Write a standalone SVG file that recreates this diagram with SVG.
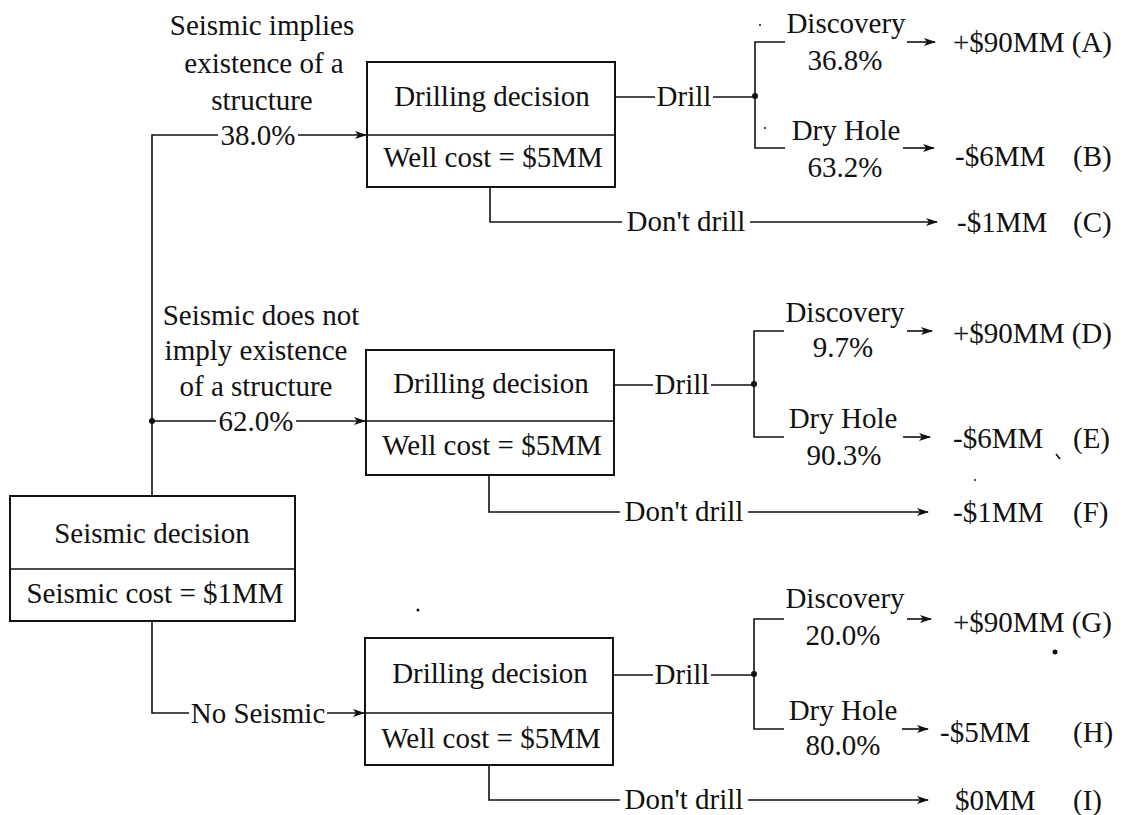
<svg xmlns="http://www.w3.org/2000/svg" width="1123" height="815" viewBox="0 0 1123 815">
<style>
text { font-family: "Liberation Serif", "Times New Roman", serif; font-size: 29px; fill: #111; }
.c { text-anchor: middle; }
.box { fill: #fff; stroke: #111; stroke-width: 2; }
.ln { fill: none; stroke: #111; stroke-width: 1.6; }
.arr { marker-end: url(#ah); }
.dot { fill: #111; }
</style>
<defs>
<marker id="ah" markerWidth="12" markerHeight="10" refX="11" refY="5" orient="auto" markerUnits="userSpaceOnUse"><path d="M0,1 L12,5 L0,9 L3,5 Z" fill="#111"/></marker>
</defs>
<rect width="1123" height="815" fill="#fff"/>

<g id="connectors">
  <path class="ln" d="M152,496 V135 H218"/>
  <path class="ln arr" d="M298,135 H366"/>
  <path class="ln" d="M152,421 H216"/>
  <path class="ln arr" d="M296,421 H365"/>
  <circle class="dot" cx="152" cy="421" r="3"/>
  <path class="ln" d="M152,621 V713 H189"/>
  <path class="ln arr" d="M327,713 H364"/>

  <path class="ln" d="M615,97 H655 M713,97 H755"/>
  <circle class="dot" cx="755" cy="96" r="3"/>
  <path class="ln" d="M785,42 H755 V148 H785"/>
  <path class="ln arr" d="M907,42 H935"/>
  <path class="ln arr" d="M903,148 H934"/>
  <path class="ln" d="M490,187 V222 H622"/>
  <path class="ln arr" d="M750,222 H937"/>

  <path class="ln" d="M614,385 H653 M711,385 H754"/>
  <circle class="dot" cx="754" cy="384" r="3"/>
  <path class="ln" d="M784,331 H754 V437 H784"/>
  <path class="ln arr" d="M907,331 H932"/>
  <path class="ln arr" d="M903,437 H930"/>
  <path class="ln" d="M489,475 V512 H620"/>
  <path class="ln arr" d="M748,512 H928"/>

  <path class="ln" d="M613,675 H653 M711,675 H754"/>
  <circle class="dot" cx="754" cy="674" r="3"/>
  <path class="ln" d="M784,619 H754 V729 H784"/>
  <path class="ln arr" d="M907,619 H931"/>
  <path class="ln arr" d="M902,729 H928"/>
  <path class="ln" d="M489,765 V800 H620"/>
  <path class="ln arr" d="M748,800 H928"/>
</g>

<g id="edge-labels">
  <text class="c" x="262" y="35">Seismic implies</text>
  <text class="c" x="264" y="73">existence of a</text>
  <text class="c" x="262" y="110">structure</text>
  <text class="c" x="258" y="145">38.0%</text>

  <text class="c" x="261" y="325">Seismic does not</text>
  <text class="c" x="256" y="360">imply existence</text>
  <text class="c" x="256" y="396">of a structure</text>
  <text class="c" x="256" y="431">62.0%</text>

  <text class="c" x="258" y="723">No Seismic</text>

  <text class="c" x="684" y="106">Drill</text>
  <text class="c" x="686" y="231">Don't drill</text>
  <text class="c" x="682" y="394">Drill</text>
  <text class="c" x="684" y="521">Don't drill</text>
  <text class="c" x="682" y="684">Drill</text>
  <text class="c" x="684" y="809">Don't drill</text>

  <text class="c" x="846" y="33">Discovery</text>
  <text class="c" x="845" y="70">36.8%</text>
  <text class="c" x="846" y="140">Dry Hole</text>
  <text class="c" x="845" y="177">63.2%</text>

  <text class="c" x="845" y="322">Discovery</text>
  <text class="c" x="843" y="357">9.7%</text>
  <text class="c" x="843" y="428">Dry Hole</text>
  <text class="c" x="844" y="465">90.3%</text>

  <text class="c" x="845" y="608">Discovery</text>
  <text class="c" x="843" y="645">20.0%</text>
  <text class="c" x="843" y="720">Dry Hole</text>
  <text class="c" x="843" y="755">80.0%</text>
</g>

<g id="outcomes">
  <text x="953" y="52">+$90MM (A)</text>
  <text x="955" y="166">-$6MM</text><text x="1073" y="166">(B)</text>
  <text x="957" y="232">-$1MM</text><text x="1073" y="232">(C)</text>
  <text x="953" y="343">+$90MM (D)</text>
  <text x="953" y="448">-$6MM</text><text x="1073" y="448">(E)</text>
  <text x="953" y="522">-$1MM</text><text x="1073" y="522">(F)</text>
  <text x="953" y="632">+$90MM (G)</text>
  <text x="940" y="742">-$5MM</text><text x="1073" y="742">(H)</text>
  <text x="955" y="810">$0MM</text><text x="1073" y="810">(I)</text>
</g>

<g id="seismic-decision">
  <rect class="box" x="10" y="496" width="285" height="125"/>
  <line class="ln" x1="10" y1="569" x2="295" y2="569" stroke-width="2"/>
  <text class="c" x="152" y="543">Seismic decision</text>
  <text class="c" x="155" y="603">Seismic cost = $1MM</text>
</g>

<g id="drilling-1">
  <rect class="box" x="367" y="62" width="248" height="125"/>
  <line class="ln" x1="367" y1="135" x2="615" y2="135" stroke-width="2"/>
  <text class="c" x="492" y="106">Drilling decision</text>
  <text class="c" x="493" y="167">Well cost = $5MM</text>
</g>

<g id="drilling-2">
  <rect class="box" x="366" y="350" width="248" height="125"/>
  <line class="ln" x1="366" y1="421" x2="614" y2="421" stroke-width="2"/>
  <text class="c" x="491" y="393">Drilling decision</text>
  <text class="c" x="492" y="455">Well cost = $5MM</text>
</g>

<g id="drilling-3">
  <rect class="box" x="365" y="638" width="248" height="127"/>
  <line class="ln" x1="365" y1="713" x2="613" y2="713" stroke-width="2"/>
  <text class="c" x="490" y="683">Drilling decision</text>
  <text class="c" x="491" y="748">Well cost = $5MM</text>
</g>

<g id="specks">
  <circle class="dot" cx="418" cy="610" r="1.5"/>
  <circle class="dot" cx="1055" cy="652" r="2.5"/>
  <circle class="dot" cx="760" cy="25" r="1"/>
  <circle class="dot" cx="765" cy="128" r="1"/>
  <circle class="dot" cx="975" cy="480" r="1"/>
  <path class="ln" d="M1056,454 L1060,459" stroke-width="2"/>
</g>
</svg>
